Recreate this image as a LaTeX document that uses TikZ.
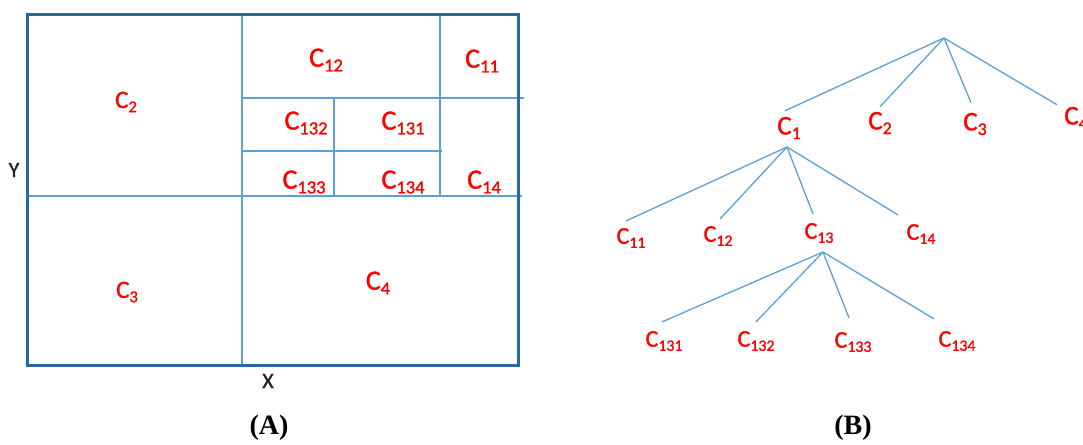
\documentclass[tikz,border=0pt]{standalone}
\usepackage{fontspec}
\setmainfont{Carlito}
\newfontfamily\lf[FakeBold=1.2]{Carlito}
\newfontfamily\tnr{Liberation Serif}
\definecolor{lb}{RGB}{91,160,215}
\definecolor{db}{RGB}{40,105,165}
\newcommand{\cc}[1]{C\raisebox{-0.17em}{\scalebox{0.66}{#1}}}
\begin{document}
\begin{tikzpicture}[x=1pt,y=-1pt,
  grid/.style={draw=lb,line width=1.5pt},
  border/.style={draw=db,line width=3pt},
  rlab/.style={text=red,inner sep=1pt,font=\fontsize{28}{28}\selectfont\lf},
  rlabB/.style={text=red,inner sep=1pt,font=\fontsize{25}{25}\selectfont\lf},
  tlab/.style={text=red,inner sep=1pt,font=\fontsize{24}{24}\selectfont\lf},
  tlabA/.style={text=red,inner sep=1pt,font=\fontsize{27}{27}\selectfont\lf},
  axislab/.style={text=black!85,inner sep=1pt,font=\fontsize{22}{22}\selectfont\lf},
  captxt/.style={inner sep=1pt,font=\fontsize{28}{28}\selectfont\tnr\bfseries},
  tree/.style={draw=lb,line width=1.3pt}]
\useasboundingbox (0,0) rectangle (1083,444);
% --- (A) partition
\draw[grid] (242,15) -- (242,365);
\draw[grid] (27,196) -- (522,196);
\draw[grid] (440,15) -- (440,196);
\draw[grid] (242,98) -- (524,98);
\draw[grid] (334,98) -- (334,196);
\draw[grid] (242,151) -- (442,151);
\draw[border] (27,15) rectangle (518,365);
\node[rlabB] (a2) at (126,102) {\cc{2}};
\node[rlabB] (a3) at (127,292) {\cc{3}};
\node[rlab] (a4) at (378,283) {\cc{4}};
\node[rlab] (a12) at (326,60) {\cc{12}};
\node[rlab] (a11) at (482,61) {\cc{11}};
\node[rlab] (a132) at (306,123) {\cc{132}};
\node[rlab] (a131) at (403,123) {\cc{131}};
\node[rlab] (a133) at (304,182) {\cc{133}};
\node[rlab] (a134) at (403,182) {\cc{134}};
\node[rlab] (a14) at (484,182) {\cc{14}};
\node[axislab] (ly) at (14,170) {Y};
\node[axislab] (lx) at (268,381) {X};
\node[captxt] (capA) at (269,428) {(A)};
\node[captxt] (capB) at (853,428) {(B)};
% --- (B) tree
\coordinate (r) at (944,38);
\node[tlabA] (t1) at (789,128) {\cc{1}};
\node[tlabA] (t2) at (880,123) {\cc{2}};
\node[tlabA] (t3) at (975,124) {\cc{3}};
\node[tlabA] (t4) at (1076,118) {\cc{4}};
\coordinate (s1) at (787,147);
\node[tlab] (t11) at (631,238) {\cc{11}};
\node[tlab] (t12) at (718,236) {\cc{12}};
\node[tlab] (t13) at (819,233) {\cc{13}};
\node[tlab] (t14) at (921,234) {\cc{14}};
\coordinate (s13) at (823,252);
\node[tlab] (t131) at (664,341) {\cc{131}};
\node[tlab] (t132) at (756,341) {\cc{132}};
\node[tlab] (t133) at (853,342) {\cc{133}};
\node[tlab] (t134) at (957,341) {\cc{134}};
\draw[tree] (r) -- ([xshift=-4pt,yshift=5pt]t1.north);
\draw[tree] (r) -- ([xshift=0pt,yshift=4pt]t2.north);
\draw[tree] (r) -- ([xshift=-4pt,yshift=9pt]t3.north);
\draw[tree] (r) -- ([xshift=-19pt,yshift=1pt]t4.north);
\draw[tree] (s1) -- ([xshift=-5pt,yshift=6pt]t11.north);
\draw[tree] (s1) -- ([xshift=2pt,yshift=6pt]t12.north);
\draw[tree] (s1) -- ([xshift=-6pt,yshift=8pt]t13.north);
\draw[tree] (s1) -- ([xshift=-23pt,yshift=8pt]t14.north);
\draw[tree] (s13) -- ([xshift=-2pt,yshift=8pt]t131.north);
\draw[tree] (s13) -- ([xshift=0pt,yshift=8pt]t132.north);
\draw[tree] (s13) -- ([xshift=-4pt,yshift=13pt]t133.north);
\draw[tree] (s13) -- ([xshift=-23pt,yshift=11pt]t134.north);
\end{tikzpicture}
\end{document}
